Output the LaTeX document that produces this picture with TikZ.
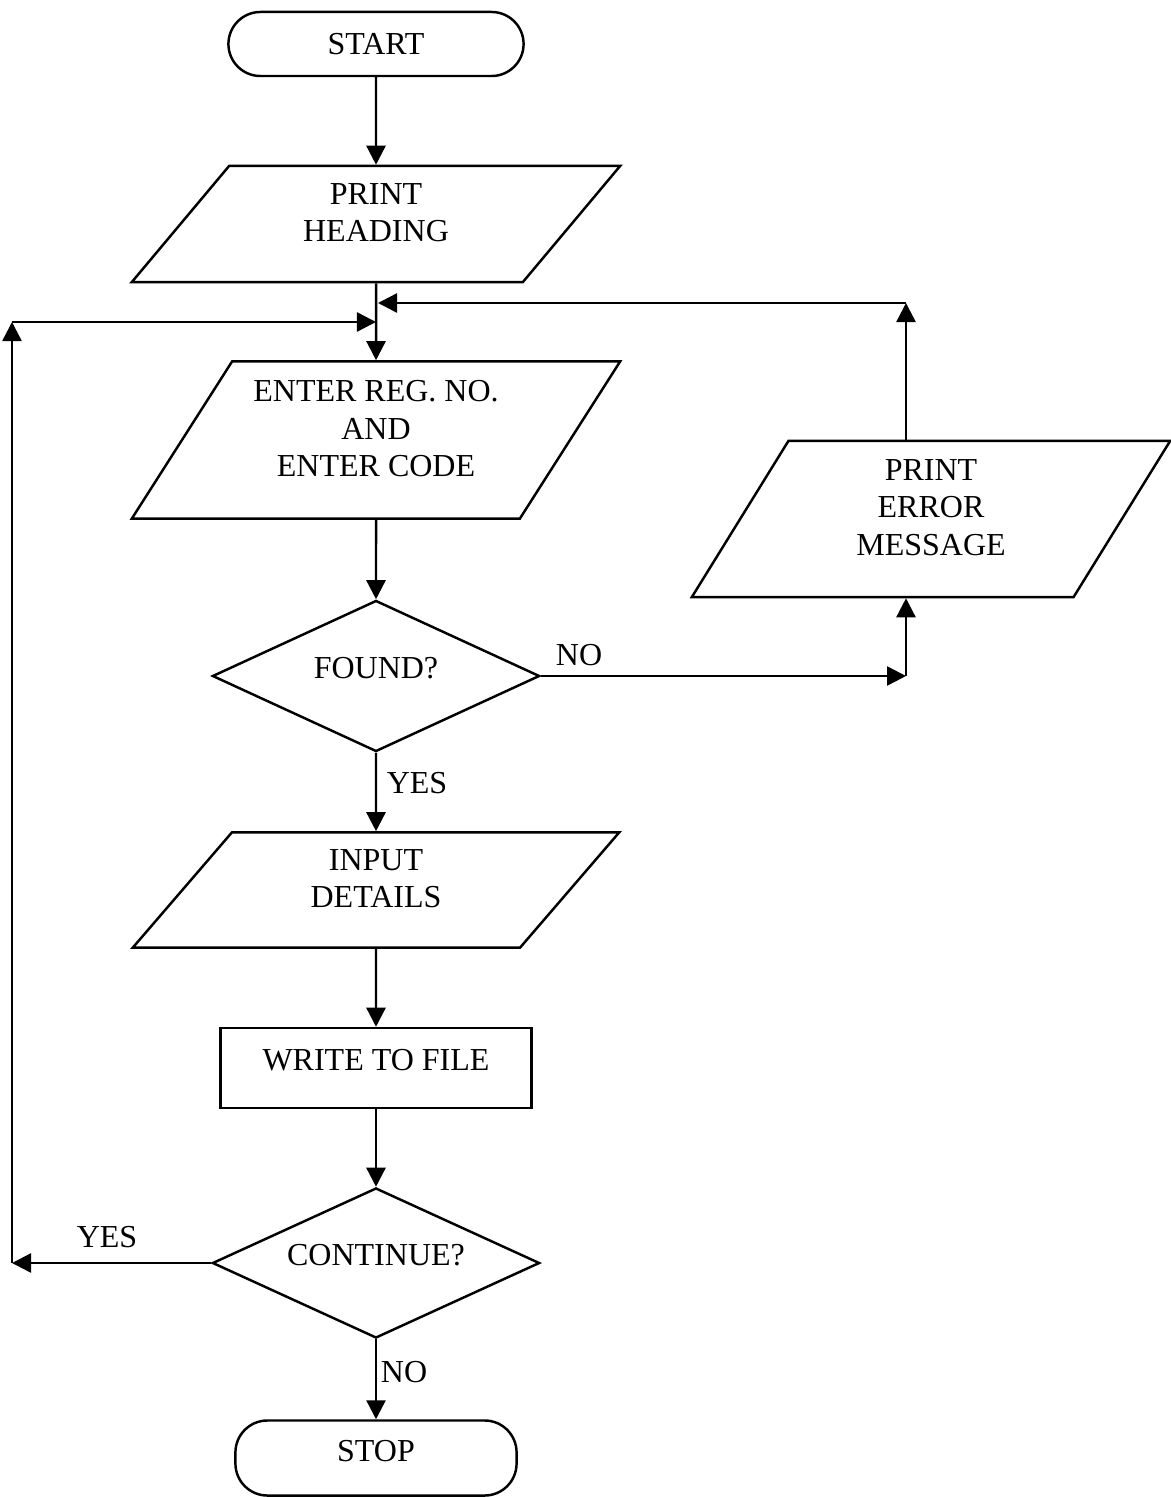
\documentclass[tikz,border=0pt]{standalone}
\usepackage{fontspec}
\setmainfont{Liberation Serif}
\usetikzlibrary{shapes.geometric,arrows.meta}

\begin{document}
\begin{tikzpicture}[
  x=0.01cm, y=-0.01cm,
  line width=0.7pt, >={Triangle[length=1.9mm,width=1.9mm]},
  every node/.style={font=\fontsize{9.1}{10.7}\selectfont, align=center},
  term/.style={draw, rectangle, rounded corners=3.2mm, minimum width=2.95cm, minimum height=0.64cm},
  io/.style={draw, trapezium, trapezium left angle=40, trapezium right angle=140,
    trapezium stretches body=true, minimum width=4.88cm, minimum height=1.16cm, inner sep=0pt, text depth=0.23cm},
  proc/.style={draw, rectangle, minimum width=3.11cm, minimum height=0.8cm, text depth=0.17cm},
  test/.style={draw, diamond, aspect=2.2, minimum width=3.27cm, minimum height=1.51cm, inner sep=0pt, text depth=0.17cm},
  lbl/.style={inner sep=0pt}
  ]
  \useasboundingbox (0,0) rectangle (1171,1497);

  \node[term] (start) at (376,44) {START};
  \node[io] (heading) at (376,224) {PRINT\\HEADING};
  \node[io, trapezium left angle=50, trapezium right angle=130, minimum height=1.57cm] (enter) at (376,440) {ENTER REG. NO.\\AND\\ENTER CODE};
  \node[test] (found) at (376,676) {FOUND?};
  \node[io, minimum width=4.86cm, minimum height=1.15cm, trapezium left angle=39.5, trapezium right angle=140.5] (input) at (376,890) {INPUT\\DETAILS};
  \node[proc] (write) at (376,1068) {WRITE TO FILE};
  \node[test, minimum height=1.5cm] (cont) at (376,1263) {CONTINUE?};
  \node[term, minimum width=2.81cm, minimum height=0.75cm, text depth=0.15cm] (stop) at (376,1458) {STOP};
  \node[io, trapezium left angle=51, trapezium right angle=129, minimum width=4.78cm, minimum height=1.56cm] (error) at (931,519) {PRINT\\ERROR\\MESSAGE};

  \node[lbl] (no1) at (579,655) {NO};
  \node[lbl] (yes1) at (417,783) {YES};
  \node[lbl] (yes2) at (107,1237) {YES};
  \node[lbl] (no2) at (404,1372) {NO};

  \coordinate (backA) at (378,303);
  \coordinate (backB) at (376,322);
  \coordinate (errIn) at (906,676);
  \coordinate (errOut) at (906,303);
  \coordinate (loopA) at (12,1263);
  \coordinate (loopB) at (12,322);

  \draw[->] (start) -- (heading);
  \draw[->] (heading) -- (enter);
  \draw[->] (enter) -- (found);
  \draw[->] (found) -- (input);
  \draw[->] (input) -- (write);
  \draw[->] (write) -- (cont);
  \draw[->] (cont) -- (stop);
  \draw[->] (found) -- (errIn);
  \draw[->] (errIn) -- (errIn |- error.south);
  \draw[->] (errOut |- error.north) -- (errOut);
  \draw[->] (errOut) -- (backA);
  \draw[->] (cont) -- (loopA);
  \draw[->] (loopA) -- (loopB);
  \draw[->] (loopB) -- (backB);
\end{tikzpicture}
\end{document}
